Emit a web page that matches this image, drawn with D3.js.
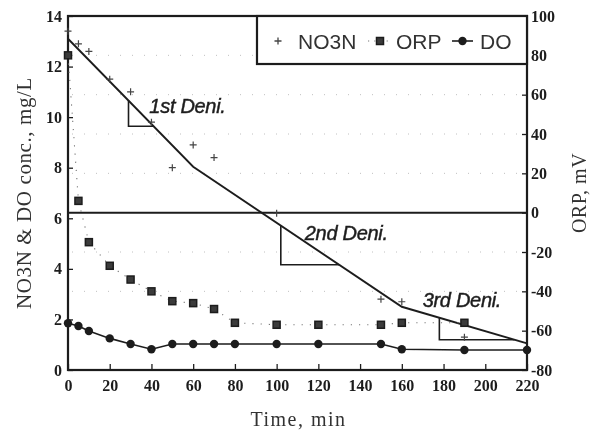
<!DOCTYPE html>
<html>
<head>
<meta charset="utf-8">
<script src="https://cdn.jsdelivr.net/npm/d3@7"></script>
<style>
  body { margin: 0; background: #fff; }
</style>
</head>
<body>
<svg id="chart"></svg>
<script>
const no3nTime = [0, 5, 10, 20, 30, 40, 50, 60, 70, 100, 150, 160, 190];
const no3nValues = [13.4, 12.9, 12.6, 11.5, 11.0, 9.8, 8.0, 8.9, 8.4, 6.2, 2.8, 2.7, 1.3];

const orpTime = [0, 5, 10, 20, 30, 40, 50, 60, 70, 80, 100, 120, 150, 160, 190];
const orpValues = [80, 6, -15, -27, -34, -40, -45, -46, -49, -56, -57, -57, -57, -56, -56];

const doTime = [0, 5, 10, 20, 30, 40, 50, 60, 70, 80, 100, 120, 150, 160, 190, 220];
const doValues = [1.85, 1.74, 1.54, 1.25, 1.03, 0.82, 1.03, 1.03, 1.03, 1.03, 1.03, 1.03, 1.03, 0.82, 0.79, 0.79];

const fitTime = [0, 60, 160, 220];
const fitValues = [13.1, 8.04, 2.5, 1.05];

const triStart = [29, 102, 178];
const triEnd = [41, 130, 214];

const annoText = ["1st Deni.", "2nd Deni.", "3rd Deni."];
const annoTime = [39, 113.5, 170];
const annoValue = [10.15, 5.15, 2.5];

const xTicks = [0, 20, 40, 60, 80, 100, 120, 140, 160, 180, 200, 220];
const leftTicks = [0, 2, 4, 6, 8, 10, 12, 14];
const rightTicks = [-80, -60, -40, -20, 0, 20, 40, 60, 80, 100];
const gridOrp = [80, 60, 40, 20, -20, -40];

const legendLabels = ["NO3N", "ORP", "DO"];

const W = 604, H = 432;
const m = { left: 68, right: 77, top: 16, bottom: 62 };
const ink = '#1e1e1e';
const serif = '"Liberation Serif", "Times New Roman", serif';
const sans = '"Liberation Sans", Arial, sans-serif';

const svg = d3.select('#chart')
  .attr('width', W)
  .attr('height', H)
  .style('background', '#fff');

svg.append('defs').append('filter')
  .attr('id', 'soft')
  .append('feGaussianBlur')
  .attr('stdDeviation', 0.55);

const g = svg.append('g').attr('filter', 'url(#soft)');

const x = d3.scaleLinear().domain([0, 220]).range([m.left, W - m.right]);
const yL = d3.scaleLinear().domain([0, 14]).range([H - m.bottom, m.top]);
const yR = d3.scaleLinear().domain([-80, 100]).range([H - m.bottom, m.top]);

const fitAt = t => {
  let i = 0;
  while (i < fitTime.length - 2 && t > fitTime[i + 1]) i++;
  const f = (t - fitTime[i]) / (fitTime[i + 1] - fitTime[i]);
  return fitValues[i] + f * (fitValues[i + 1] - fitValues[i]);
};

g.selectAll('.grid')
  .data(gridOrp)
  .join('line')
  .attr('x1', x(0) + 4).attr('x2', x(220) - 4)
  .attr('y1', d => yR(d)).attr('y2', d => yR(d))
  .attr('stroke', '#c0c0c0')
  .attr('stroke-width', 1)
  .attr('stroke-dasharray', '1,11');

const xAxis = d3.axisBottom(x).tickValues(xTicks).tickSizeInner(-6).tickSizeOuter(0).tickPadding(10);
const leftAxis = d3.axisLeft(yL).tickValues(leftTicks).tickSizeInner(-5).tickSizeOuter(0).tickPadding(6);
const rightAxis = d3.axisRight(yR).tickValues(rightTicks).tickSizeInner(-5).tickSizeOuter(0).tickPadding(4)
  .tickFormat(d3.format('d'));

const styleAxis = sel => {
  sel.select('.domain').remove();
  sel.selectAll('line').attr('stroke', ink).attr('stroke-width', 1.3);
  sel.selectAll('text')
    .attr('fill', ink)
    .style('font-family', serif)
    .style('font-weight', 'bold')
    .style('font-size', '16px');
};

g.append('g')
  .attr('transform', `translate(0, ${H - m.bottom})`)
  .call(xAxis)
  .call(styleAxis);
g.append('g')
  .attr('transform', `translate(${m.left}, 0)`)
  .call(leftAxis)
  .call(styleAxis);
g.append('g')
  .attr('transform', `translate(${W - m.right}, 0)`)
  .call(rightAxis)
  .call(styleAxis)
  .selectAll('text').text(d => d < 0 ? '-' + Math.abs(d) : d);

g.append('rect')
  .attr('x', x(0)).attr('y', yL(14))
  .attr('width', x(220) - x(0)).attr('height', yL(0) - yL(14))
  .attr('fill', 'none')
  .attr('stroke', ink)
  .attr('stroke-width', 2.2);

g.append('line')
  .attr('x1', x(0)).attr('x2', x(220))
  .attr('y1', yR(0)).attr('y2', yR(0))
  .attr('stroke', ink)
  .attr('stroke-width', 2);

const fitLine = d3.line().x(d => x(d[0])).y(d => yL(d[1]));
g.append('path')
  .datum(fitTime.map((t, i) => [t, fitValues[i]]))
  .attr('d', fitLine)
  .attr('fill', 'none')
  .attr('stroke', ink)
  .attr('stroke-width', 1.9);

g.selectAll('.tri')
  .data(triStart.map((t, i) => [t, triEnd[i]]))
  .join('path')
  .attr('d', d => d3.line()([
    [x(d[0]), yL(fitAt(d[0]))],
    [x(d[0]), yL(fitAt(d[1]))],
    [x(d[1]), yL(fitAt(d[1]))]
  ]))
  .attr('fill', 'none')
  .attr('stroke', ink)
  .attr('stroke-width', 1.6);

g.selectAll('.anno')
  .data(annoText)
  .join('text')
  .attr('x', (d, i) => x(annoTime[i]))
  .attr('y', (d, i) => yL(annoValue[i]))
  .attr('fill', ink)
  .style('font-family', sans)
  .style('font-style', 'italic')
  .style('font-size', '20px')
  .style('letter-spacing', '-0.3px')
  .attr('stroke', ink)
  .attr('stroke-width', 0.45)
  .text(d => d);

const orpPts = orpTime.map((t, i) => [t, orpValues[i]]);
g.append('path')
  .datum(orpPts)
  .attr('d', d3.line().x(d => x(d[0])).y(d => yR(d[1])))
  .attr('fill', 'none')
  .attr('stroke', '#777')
  .attr('stroke-width', 1.1)
  .attr('stroke-dasharray', '1.2,7');

const doPts = doTime.map((t, i) => [t, doValues[i]]);
g.append('path')
  .datum(doPts)
  .attr('d', d3.line().x(d => x(d[0])).y(d => yL(d[1])))
  .attr('fill', 'none')
  .attr('stroke', ink)
  .attr('stroke-width', 1.6);

const square = (sel, s) => sel
  .attr('width', s).attr('height', s)
  .attr('fill', '#3a3a3a')
  .attr('stroke', ink)
  .attr('stroke-width', 1.5);

g.selectAll('.orp')
  .data(orpPts)
  .join('rect')
  .attr('x', d => x(d[0]) - 3.5)
  .attr('y', d => yR(d[1]) - 3.5)
  .call(square, 7);

g.selectAll('.do')
  .data(doPts)
  .join('circle')
  .attr('cx', d => x(d[0]))
  .attr('cy', d => yL(d[1]))
  .attr('r', 4.2)
  .attr('fill', ink);

g.selectAll('.no3n')
  .data(no3nTime.map((t, i) => [t, no3nValues[i]]))
  .join('path')
  .attr('transform', d => `translate(${x(d[0])}, ${yL(d[1])})`)
  .attr('d', d3.line()([[-3.5, 0], [3.5, 0]]) + d3.line()([[0, -3.5], [0, 3.5]]))
  .attr('fill', 'none')
  .attr('stroke', '#444')
  .attr('stroke-width', 1.2);

const lg = g.append('g');
lg.append('rect')
  .attr('x', 257).attr('y', yL(14))
  .attr('width', x(220) - 257).attr('height', 48)
  .attr('fill', '#fff')
  .attr('stroke', ink)
  .attr('stroke-width', 2.2);

const legendX = [298, 396, 480];
lg.selectAll('.lt')
  .data(legendLabels)
  .join('text')
  .attr('x', (d, i) => legendX[i])
  .attr('y', 49)
  .attr('fill', '#333')
  .style('font-family', sans)
  .style('font-size', '21px')
  .text(d => d);

lg.append('path')
  .attr('d', 'M274.5,41H281.5M278,37.5V44.5')
  .attr('stroke', '#444')
  .attr('stroke-width', 1.3);
lg.append('line')
  .attr('x1', 368).attr('x2', 392).attr('y1', 41).attr('y2', 41)
  .attr('stroke', '#777').attr('stroke-width', 1.1).attr('stroke-dasharray', '1.2,5');
lg.append('rect')
  .attr('x', 376.5).attr('y', 37.5)
  .call(square, 7);
lg.append('line')
  .attr('x1', 452).attr('x2', 473).attr('y1', 41).attr('y2', 41)
  .attr('stroke', ink).attr('stroke-width', 1.6);
lg.append('circle')
  .attr('cx', 462.5).attr('cy', 41).attr('r', 4.2)
  .attr('fill', ink);

g.append('text')
  .attr('x', (x(0) + x(220)) / 2 + 1)
  .attr('y', 426)
  .attr('text-anchor', 'middle')
  .attr('fill', '#333')
  .style('font-family', serif)
  .style('font-size', '20px')
  .style('letter-spacing', '1.5px')
  .text('Time, min');

g.append('text')
  .attr('transform', 'translate(31, 193) rotate(-90)')
  .attr('text-anchor', 'middle')
  .attr('fill', '#333')
  .style('font-family', serif)
  .style('font-size', '21px')
  .style('letter-spacing', '0.6px')
  .text('NO3N & DO conc., mg/L');

g.append('text')
  .attr('transform', 'translate(586, 193) rotate(-90)')
  .attr('text-anchor', 'middle')
  .attr('fill', '#333')
  .style('font-family', serif)
  .style('font-size', '20px')
  .style('letter-spacing', '0.5px')
  .text('ORP, mV');
</script>
</body>
</html>
